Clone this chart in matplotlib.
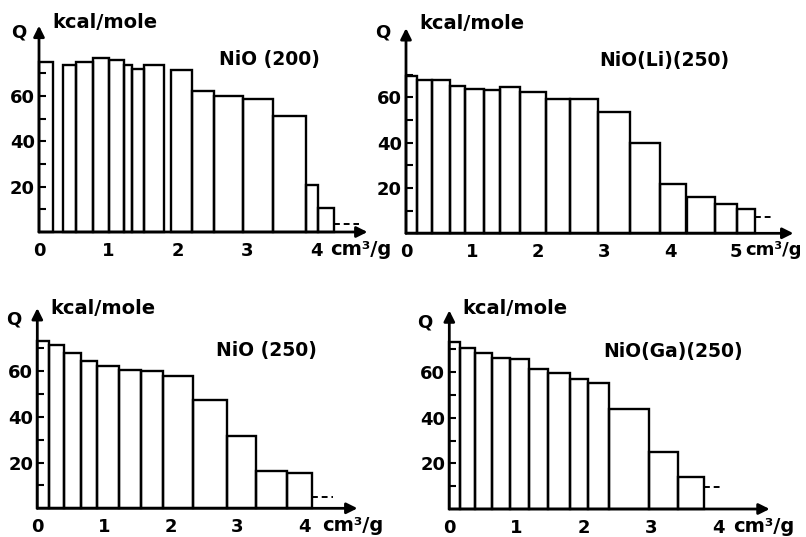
import numpy as np
import matplotlib
matplotlib.use('Agg')
import matplotlib.pyplot as plt

plt.rcParams['font.family'] = ['DejaVu Sans']

# --- data (Q in kcal/mole vs adsorbed volume in cm3/g) ---
# NiO (200): bars are not all contiguous, so keep left and right edges
niO200_left = [0.0, 0.35, 0.53, 0.78, 1.01, 1.22, 1.34, 1.52, 1.90, 2.21, 2.52, 2.95, 3.37, 3.86, 4.02]
niO200_right = [0.20, 0.53, 0.78, 1.01, 1.22, 1.34, 1.52, 1.80, 2.21, 2.52, 2.95, 3.37, 3.86, 4.02, 4.25]
niO200_q = [74.9, 73.5, 74.9, 76.8, 75.7, 73.8, 71.9, 73.8, 71.6, 62.2, 60.0, 58.8, 51.0, 20.9, 10.6]
niO200_dash = ([4.26, 4.62], 3.7)

# NiO(Li)(250)
li_edges = [0, 0.16, 0.39, 0.67, 0.89, 1.18, 1.42, 1.72, 2.12, 2.49, 2.91, 3.39, 3.85, 4.25, 4.68, 5.02, 5.29]
li_q = [69.4, 67.6, 67.5, 65.0, 63.5, 63.2, 64.7, 62.5, 59.3, 59.3, 53.7, 40.0, 21.8, 15.9, 12.9, 10.6]
li_dash = ([5.29, 5.57], 7.4)

# NiO (250)
niO250_edges = [0, 0.18, 0.40, 0.66, 0.89, 1.22, 1.55, 1.89, 2.34, 2.84, 3.28, 3.74, 4.12]
niO250_q = [73.4, 71.5, 68.0, 64.7, 62.5, 60.6, 60.3, 58.0, 47.4, 31.8, 16.4, 15.3]
niO250_dash = ([4.12, 4.44], 4.8)

# NiO(Ga)(250)
ga_edges = [0, 0.16, 0.38, 0.63, 0.90, 1.19, 1.47, 1.80, 2.06, 2.38, 2.96, 3.40, 3.78]
ga_q = [73.3, 70.4, 68.5, 66.0, 65.7, 61.3, 59.7, 56.8, 55.0, 43.6, 25.1, 14.2]
ga_dash = ([3.78, 4.07], 9.5)

W, H = 806, 537
fig = plt.figure(figsize=(W / 100, H / 100), dpi=100)

# panel layout in pixels: origin x, origin y, px per cm3/g, px per kcal, axis ends
panels = [
    dict(ox=39, oy=232, xu=69.3, yu=2.267, xmax=4.74, ymax=91, xt=[0, 1, 2, 3, 4],
         left=niO200_left, right=niO200_right, q=niO200_q, dash=niO200_dash,
         title='NiO (200)', tpos=(3.32, 76.3), qpos=(-0.29, 88), kpos=(0.19, 92.6),
         upos=(4.2, -7.5), usize=14),
    dict(ox=406, oy=233.3, xu=66, yu=2.267, xmax=5.87, ymax=90.5, xt=[0, 1, 2, 3, 4, 5],
         left=li_edges[:-1], right=li_edges[1:], q=li_q, dash=li_dash,
         title='NiO(Li)(250)', tpos=(3.92, 76.3), qpos=(-0.35, 88.7), kpos=(0.21, 92.6),
         upos=(5.14, -7.5), usize=13),
    dict(ox=37.3, oy=508.3, xu=66.7, yu=2.283, xmax=4.8, ymax=87.7, xt=[0, 1, 2, 3, 4],
         left=niO250_edges[:-1], right=niO250_edges[1:], q=niO250_q, dash=niO250_dash,
         title='NiO (250)', tpos=(3.44, 69.3), qpos=(-0.36, 82.5), kpos=(0.19, 87.7),
         upos=(4.27, -7.5), usize=14),
    dict(ox=449.3, oy=509, xu=67.3, yu=2.283, xmax=4.76, ymax=87, xt=[0, 1, 2, 3, 4],
         left=ga_edges[:-1], right=ga_edges[1:], q=ga_q, dash=ga_dash,
         title='NiO(Ga)(250)', tpos=(3.32, 68.8), qpos=(-0.36, 81.5), kpos=(0.19, 88),
         upos=(4.22, -7.5), usize=14),
]

for p in panels:
    ax = fig.add_axes([p['ox'] / W, 1 - p['oy'] / H, p['xmax'] * p['xu'] / W, p['ymax'] * p['yu'] / H])
    ax.set_xlim(0, p['xmax'])
    ax.set_ylim(0, p['ymax'])
    for s in ax.spines.values():
        s.set_visible(False)
    ax.patch.set_visible(False)

    left = np.array(p['left'])
    right = np.array(p['right'])
    ax.bar(left, p['q'], width=right - left, align='edge', fill=False,
           edgecolor='black', linewidth=1.7, clip_on=False)
    dx, dy = p['dash']
    ax.plot(dx, [dy, dy], ls=(0, (3, 2)), color='black', lw=1.4)

    # axes with arrow heads
    ax.annotate('', xy=(p['xmax'], 0), xytext=(0, 0), annotation_clip=False,
                arrowprops=dict(arrowstyle='-|>', color='black', lw=2, mutation_scale=16, shrinkA=0, shrinkB=0))
    ax.annotate('', xy=(0, p['ymax']), xytext=(0, 0), annotation_clip=False,
                arrowprops=dict(arrowstyle='-|>', color='black', lw=2, mutation_scale=16, shrinkA=0, shrinkB=0))

    ax.set_xticks(p['xt'])
    ax.set_xticklabels([str(t) for t in p['xt']])
    ax.tick_params(axis='x', length=0, pad=7, labelsize=13)
    ax.set_yticks([20, 40, 60])
    ax.set_yticks([10, 30, 50, 70], minor=True)
    ax.tick_params(axis='y', which='both', direction='in', length=5, width=1.5, pad=3, labelsize=13)
    for lab in ax.get_xticklabels() + ax.get_yticklabels():
        lab.set_fontweight('bold')

    ax.text(*p['qpos'], 'Q', fontsize=13, fontweight='bold', ha='center', va='center')
    ax.text(*p['kpos'], 'kcal/mole', fontsize=14, fontweight='bold', ha='left', va='center')
    ax.text(*p['tpos'], p['title'], fontsize=13.5, fontweight='bold', ha='center', va='center')
    ax.text(*p['upos'], 'cm³/g', fontsize=p['usize'], fontweight='bold', ha='left', va='center')

fig.savefig('out.png', dpi=100)
